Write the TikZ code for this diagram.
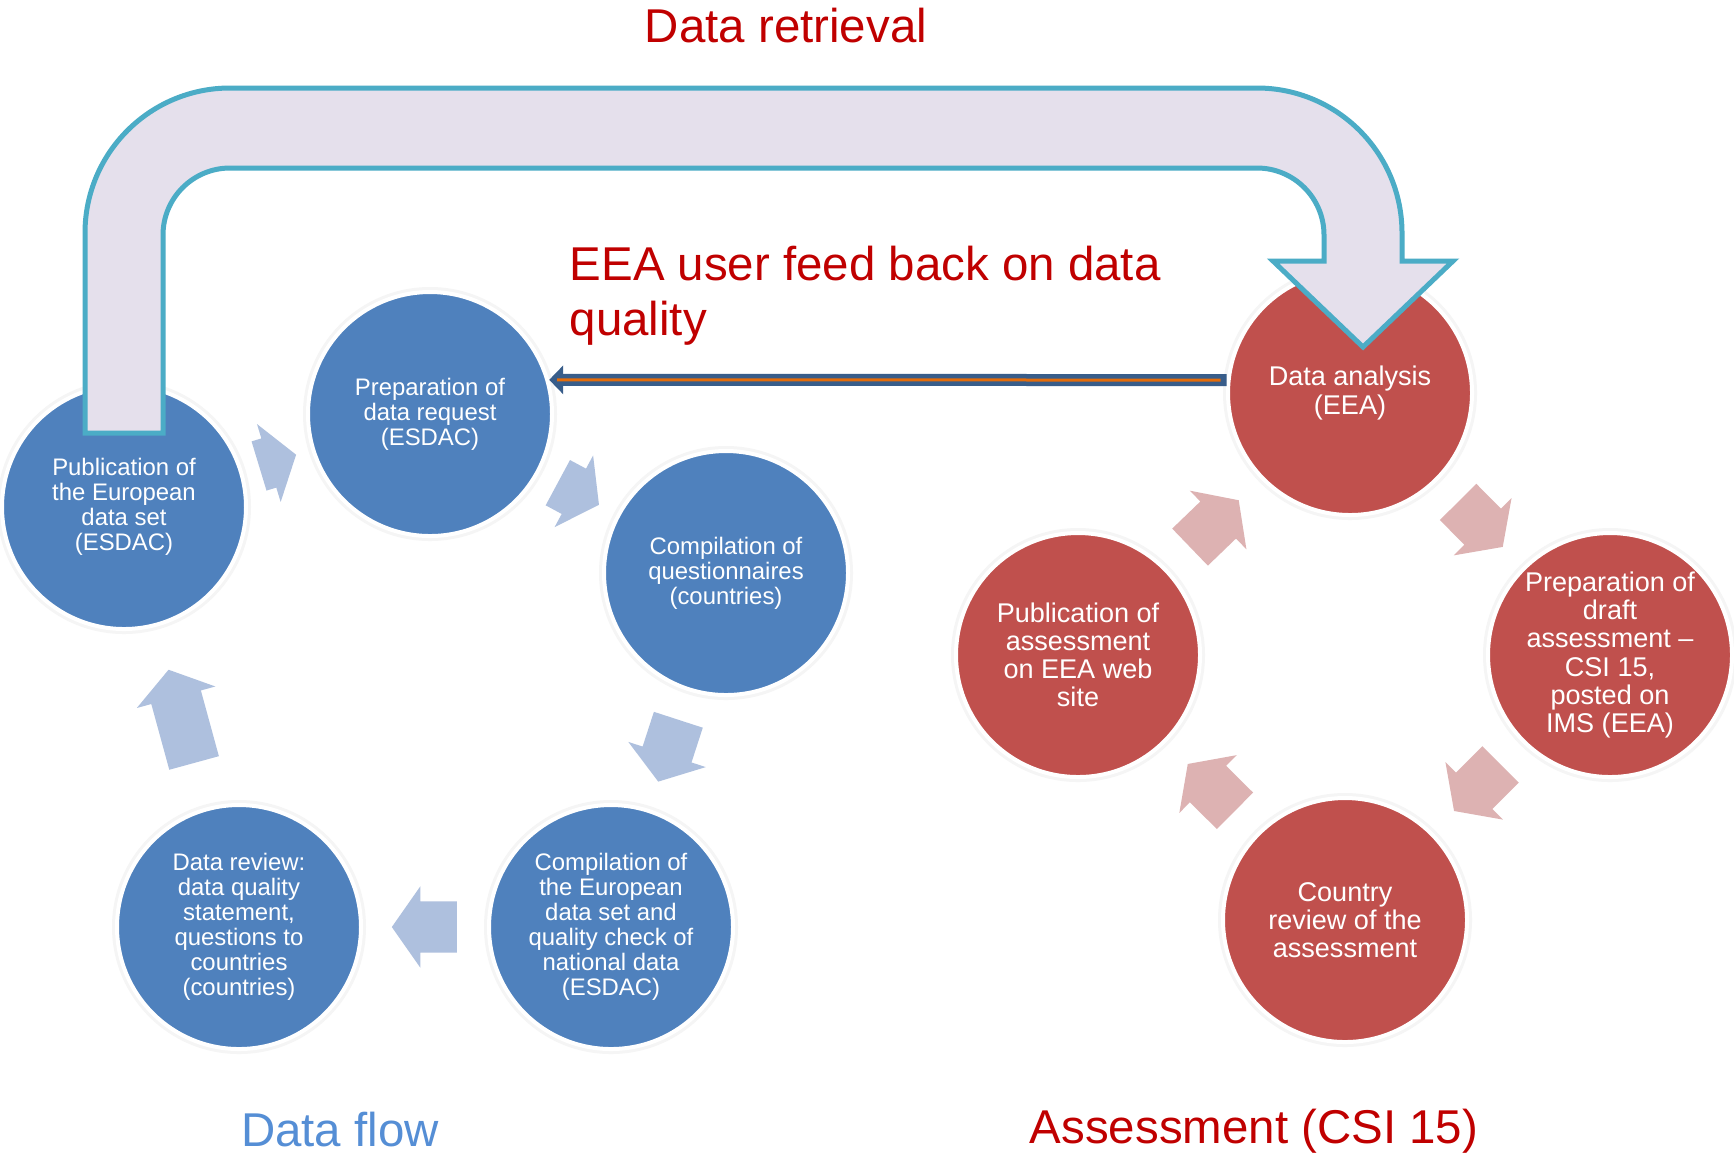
\documentclass[tikz,border=0pt]{standalone}
\usepackage{fontspec}
\setmainfont{Liberation Sans}
\usepackage{tikz}
\usetikzlibrary{shapes.geometric, shapes.arrows, arrows.meta, positioning, calc}
\definecolor{titleRed}{RGB}{192, 0, 0}
\definecolor{titleBlue}{RGB}{85, 142, 213}
\definecolor{flowBlue}{RGB}{79, 129, 189}
\definecolor{assessRed}{RGB}{192, 80, 77}
\definecolor{flowArrow}{RGB}{174, 192, 222}
\definecolor{assessArrow}{RGB}{221, 178, 178}
\definecolor{retrievalFill}{RGB}{229, 224, 236}
\definecolor{retrievalLine}{RGB}{75, 172, 198}
\definecolor{feedbackBlue}{RGB}{56, 93, 138}
\definecolor{feedbackOrange}{RGB}{228, 108, 10}
\tikzstyle{stage} = [circle, minimum size=24.4mm, inner sep=0pt, align=center, text=white, draw=white, line width=0.4mm, preaction={draw=black!4, line width=1mm}]
\tikzstyle{bluestage} = [fill=flowBlue, font=\fontsize{6.8}{7.1}\selectfont]
\tikzstyle{redstage} = [fill=assessRed, font=\fontsize{7.7}{8}\selectfont]
\tikzstyle{cyclearrow} = [single arrow, draw=none, minimum width=8mm, single arrow head extend=1.5mm, single arrow tip angle=110, inner xsep=0pt, inner ysep=2.5mm, anchor=tail]
\tikzstyle{title} = [font=\fontsize{13.5}{15.9}\selectfont, inner sep=0pt]
\tikzstyle{feedback} = [draw=feedbackBlue, line width=1.2mm, -{Triangle[width=2.8mm, length=1.4mm]}]
\tikzstyle{feedbackline} = [draw=feedbackOrange, line width=0.3mm, shorten >=0.8mm, shorten <=0.6mm]
\tikzstyle{retrieval} = [draw=retrievalLine, fill=retrievalFill, line width=0.5mm, line join=miter]

\begin{document}
\begin{tikzpicture}[x=0.1mm, y=-0.1mm]

\fill [white] (0, 0) rectangle (1734, 1158);
\useasboundingbox (0, 0) rectangle (1734, 1158);

% data flow cycle
\node (b1) [stage, bluestage] at (124, 507) {Publication of\\the European\\data set\\(ESDAC)};
\node (b2) [stage, bluestage] at (430, 414) {Preparation of\\data request\\(ESDAC)};
\node (b3) [stage, bluestage] at (726, 573) {Compilation of\\questionnaires\\(countries)};
\node (b4) [stage, bluestage] at (611, 927) {Compilation of\\the European\\data set and\\quality check of\\national data\\(ESDAC)};
\node (b5) [stage, bluestage] at (239, 927) {Data review:\\data quality\\statement,\\questions to\\countries\\(countries)};

% assessment cycle
\node (r1) [stage, redstage] at (1350, 393) {Data analysis\\(EEA)};
\node (r2) [stage, redstage] at (1610, 655) {Preparation of\\draft\\assessment --\\CSI 15,\\posted on\\IMS (EEA)};
\node (r3) [stage, redstage] at (1345, 920) {Country\\review of the\\assessment};
\node (r4) [stage, redstage] at (1078, 655) {Publication of\\assessment\\on EEA web\\site};

% small arrows in the gaps, half as long as the gap
\foreach \from/\to/\col in {b1/b2/flowArrow, b2/b3/flowArrow, b3/b4/flowArrow, b4/b5/flowArrow, b5/b1/flowArrow, r1/r2/assessArrow, r2/r3/assessArrow, r3/r4/assessArrow, r4/r1/assessArrow}
  \path let \p1 = ($(\to)-(\from)$), \n1 = {atan2(\y1,\x1)}, \n2 = {veclen(\x1,\y1)}, \n3 = {34.45+(\n2-68.9)/4} in
    node (arr-\from) [cyclearrow, fill=\col, rotate=\n1, minimum height={(\n2-68.9)/2}] at ($(\from)!\n3!(\to)$) {};

\draw [feedback] (r1.174) -- (b2.16);
\draw [feedbackline] (r1.174) -- (b2.16);

% big retrieval arrow
\draw [retrieval] (85, 433) -- (85, 233) arc[start angle=180, end angle=270, radius=145]
  -- (1257, 88) arc[start angle=270, end angle=360, radius=145]
  -- (1402, 261) -- (1453, 261) -- (1363, 347) -- (1273, 261) -- (1324, 261)
  -- (1324, 235) arc[start angle=0, end angle=-90, radius=67]
  -- (230, 168) arc[start angle=270, end angle=180, radius=67]
  -- (163, 433) -- cycle;

\node (retrievalLabel) [title, text=titleRed, anchor=base] at (786, 42) {Data retrieval};
\node (feedbackLabel) [title, text=titleRed, anchor=north west, align=left] at (569, 245) {EEA user feed back on data\\quality};
\node (flowLabel) [title, text=titleBlue, anchor=base] at (340, 1146) {Data flow};
\node (assessLabel) [title, text=titleRed, anchor=base] at (1254, 1143) {Assessment (CSI 15)};

\end{tikzpicture}
\end{document}
